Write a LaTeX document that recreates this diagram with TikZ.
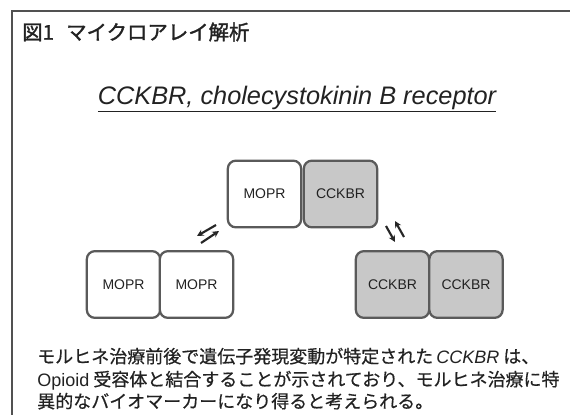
\documentclass[tikz,border=0pt]{standalone}
\usepackage{fontspec}
\setmainfont{Liberation Sans}
\newfontfamily\jp{Noto Sans CJK JP}[FakeBold=0.5]
\newfontfamily\jpt{Noto Sans CJK JP}[FakeBold=1.6]
\usetikzlibrary{arrows.meta}
\definecolor{edge}{HTML}{5A5A5A}
\definecolor{shade}{HTML}{C8C8C8}
\definecolor{ink}{HTML}{222222}
\tikzset{
  frame/.style={draw=edge!90!black, line width=1.6pt},
  recbox/.style={draw=edge, line width=1.7pt, rounded corners=6pt,
    minimum width=55pt, minimum height=50pt, inner sep=0pt, text=ink,
    font=\fontsize{10.5}{12}\selectfont},
  mopr/.style={recbox, fill=white},
  cckbr/.style={recbox, fill=shade},
  eqarrow/.style={-{Stealth[length=5pt,width=5pt]}, line width=1.6pt, draw=black!85},
  bodytext/.style={anchor=base west, inner sep=0pt, text=ink, font=\jp\fontsize{13.5}{16}\selectfont}
}
\begin{document}
\begin{tikzpicture}[x=0.75pt,y=-0.75pt]
\useasboundingbox (0,0) rectangle (570,414);
\fill[white] (0,0) rectangle (570,414);
\draw[frame] (572,11) -| (12,416);
% title
\node[anchor=west, inner sep=0pt, text=ink, font=\jpt\fontsize{15.3}{18}\selectfont] (title) at (22,32) {図1\hspace{0.6em}マイクロアレイ解析};
% subtitle
\node[inner sep=0pt, text=ink, font=\fontsize{19}{22}\selectfont\itshape] (sub) at (297,99) {\underline{CCKBR, cholecystokinin B receptor}};
% top pair
\node[mopr] (tm) at (264.5,194) {MOPR};
\node[cckbr] (tc) at (340.5,194) {CCKBR};
% bottom left pair
\node[mopr] (lm1) at (123.5,284.5) {MOPR};
\node[mopr] (lm2) at (196.5,284.5) {MOPR};
% bottom right pair
\node[cckbr] (rc1) at (392.5,284.5) {CCKBR};
\node[cckbr] (rc2) at (466,284.5) {CCKBR};
% equilibrium arrows left
\coordinate (la1) at (216,225);
\coordinate (la2) at (197,236);
\coordinate (lb1) at (201,243);
\coordinate (lb2) at (219,231);
\draw[eqarrow] (la1) -- (la2);
\draw[eqarrow] (lb1) -- (lb2);
% equilibrium arrows right
\coordinate (ra1) at (386,226);
\coordinate (ra2) at (395,242);
\coordinate (rb1) at (404,237);
\coordinate (rb2) at (395,221);
\draw[eqarrow] (ra1) -- (ra2);
\draw[eqarrow] (rb1) -- (rb2);
% body text
\node[bodytext] (t1) at (37,363) {モルヒネ治療前後で遺伝子発現変動が特定された\,{\fontspec{Liberation Sans}\itshape CCKBR}\ は、};
\node[bodytext] (t2) at (37,386) {{\fontspec{Liberation Sans}Opioid} 受容体と結合することが示されており、モルヒネ治療に特};
\node[bodytext] (t3) at (37,408) {異的なバイオマーカーになり得ると考えられる。};
\end{tikzpicture}
\end{document}
